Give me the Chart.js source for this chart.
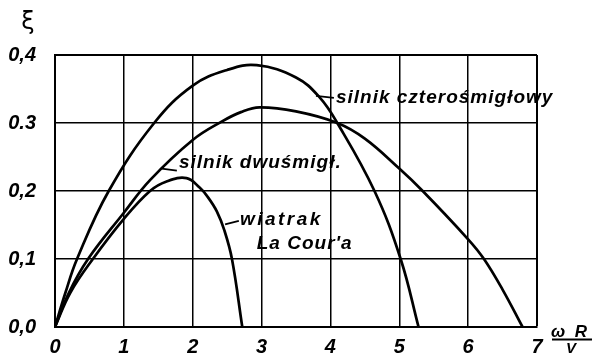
<!DOCTYPE html>
<html>
<head>
<meta charset="utf-8">
<script src="https://cdn.jsdelivr.net/npm/chart.js@4.4.1/dist/chart.umd.min.js"></script>
<style>
  html, body { margin: 0; padding: 0; background: #fff; }
  canvas { display: block; }
</style>
</head>
<body>
<canvas id="chart" width="596" height="364"></canvas>
<script>
// ξ against ωR/V for three rotor types

const X_TICKS = ['0', '1', '2', '3', '4', '5', '6', '7'];
const Y_TICKS = ['0,0', '0,1', '0,2', '0.3', '0,4'];

// silnik czterośmigłowy
const FOUR_X = [0, 0.15, 0.32, 0.78, 1.44, 2.0, 2.5, 2.93, 3.5, 3.84, 4.1, 4.64, 5.02, 5.28];
const FOUR_Y = [0, 0.05, 0.1, 0.2, 0.3, 0.355, 0.378, 0.385, 0.367, 0.338, 0.3, 0.2, 0.1, 0];

// silnik dwuśmigłowy
const TWO_X = [0, 0.2, 0.48, 1.0, 1.38, 2.0, 2.42, 2.7, 2.97, 3.5, 4.1, 4.5, 5.0, 5.34, 6.0, 6.23, 6.5, 6.79];
const TWO_Y = [0, 0.05, 0.1, 0.168, 0.216, 0.275, 0.302, 0.316, 0.323, 0.317, 0.3, 0.277, 0.233, 0.2, 0.129, 0.1, 0.055, 0];

// wiatrak La Cour'a
const LACOUR_X = [0, 0.22, 0.55, 1.0, 1.38, 1.62, 1.91, 2.1, 2.22, 2.35, 2.46, 2.57, 2.72];
const LACOUR_Y = [0, 0.05, 0.1, 0.159, 0.2, 0.214, 0.219, 0.205, 0.191, 0.17, 0.142, 0.1, 0];

const FONT = '"Liberation Sans", Arial, sans-serif';

function series(xs, ys) {
  return {
    data: xs.map((x, i) => ({ x: x, y: ys[i] })),
    borderColor: '#000',
    borderWidth: 2.7,
    pointRadius: 0,
    fill: false,
    tension: 0.4
  };
}

// curve labels with short leader lines, given in data units
const LABELS = [
  { text: 'silnik czterośmigłowy', from: [3.79, 0.340], to: [4.05, 0.337], at: [4.08, 0.3375], spacing: 1 },
  { text: 'silnik dwuśmigł.', from: [1.55, 0.233], to: [1.77, 0.230], at: [1.80, 0.242], spacing: 1 },
  { text: 'wiatrak', from: [2.47, 0.151], to: [2.67, 0.156], at: [2.685, 0.157], spacing: 2.5 },
  { text: 'La Cour\'a', from: null, to: null, at: [2.93, 0.123], spacing: 1 }
];

const annotations = {
  id: 'annotations',
  afterDraw(chart) {
    const { ctx, chartArea, scales: { x, y } } = chart;
    ctx.save();
    ctx.fillStyle = '#000';
    ctx.strokeStyle = '#000';
    ctx.lineWidth = 1.8;
    ctx.font = 'italic bold 19px ' + FONT;
    ctx.textBaseline = 'middle';
    ctx.textAlign = 'left';
    LABELS.forEach(l => {
      if (l.from) {
        ctx.beginPath();
        ctx.moveTo(x.getPixelForValue(l.from[0]), y.getPixelForValue(l.from[1]));
        ctx.lineTo(x.getPixelForValue(l.to[0]), y.getPixelForValue(l.to[1]));
        ctx.stroke();
      }
      ctx.letterSpacing = l.spacing + 'px';
      ctx.fillText(l.text, x.getPixelForValue(l.at[0]), y.getPixelForValue(l.at[1]));
    });
    ctx.letterSpacing = '0px';

    // y axis symbol
    ctx.textAlign = 'center';
    ctx.font = '24px "DejaVu Sans", ' + FONT;
    ctx.fillText('ξ', chartArea.left - 27, chartArea.top - 32);

    // x axis quantity as a fraction
    const fx = chartArea.right + 15, fy = chartArea.bottom + 12;
    ctx.font = 'italic bold 17px ' + FONT;
    ctx.textBaseline = 'alphabetic';
    ctx.fillText('ω', fx + 6, fy - 2);
    ctx.fillText('R', fx + 29, fy - 2);
    ctx.beginPath();
    ctx.lineWidth = 2;
    ctx.moveTo(fx, fy + 0.5);
    ctx.lineTo(fx + 40, fy + 0.5);
    ctx.stroke();
    ctx.font = 'italic bold 15px ' + FONT;
    ctx.fillText('V', fx + 19, fy + 14);
    ctx.restore();
  }
};

new Chart(document.getElementById('chart'), {
  type: 'line',
  data: {
    datasets: [
      series(FOUR_X, FOUR_Y),
      series(TWO_X, TWO_Y),
      series(LACOUR_X, LACOUR_Y)
    ]
  },
  options: {
    responsive: false,
    animation: false,
    devicePixelRatio: 1,
    layout: { padding: { top: 55, right: 59, left: 0, bottom: 0 } },
    plugins: {
      legend: { display: false },
      tooltip: { enabled: false }
    },
    scales: {
      x: {
        type: 'linear',
        min: 0,
        max: 7,
        afterBuildTicks: s => { s.ticks = X_TICKS.map((_, i) => ({ value: i })); },
        afterFit: s => { s.height = 37; },
        ticks: {
          callback: (v, i) => X_TICKS[i],
          autoSkip: false,
          maxRotation: 0,
          padding: 8,
          color: '#000',
          font: { family: FONT, size: 20, style: 'italic', weight: 'bold' }
        },
        grid: {
          color: '#000',
          lineWidth: c => (c.tick && c.tick.value === 7 ? 2 : 1.5),
          drawTicks: false
        },
        border: { color: '#000', width: 2 }
      },
      y: {
        min: 0,
        max: 0.4,
        afterBuildTicks: s => { s.ticks = Y_TICKS.map((_, i) => ({ value: i / 10 })); },
        afterFit: s => { s.width = 55; },
        ticks: {
          callback: (v, i) => Y_TICKS[i],
          autoSkip: false,
          padding: 19,
          color: '#000',
          font: { family: FONT, size: 20, style: 'italic', weight: 'bold' }
        },
        grid: {
          color: '#000',
          lineWidth: c => (c.tick && Math.abs(c.tick.value - 0.4) < 1e-9 ? 2 : 1.5),
          drawTicks: false
        },
        border: { color: '#000', width: 2 }
      }
    }
  },
  plugins: [annotations]
});
</script>
</body>
</html>
